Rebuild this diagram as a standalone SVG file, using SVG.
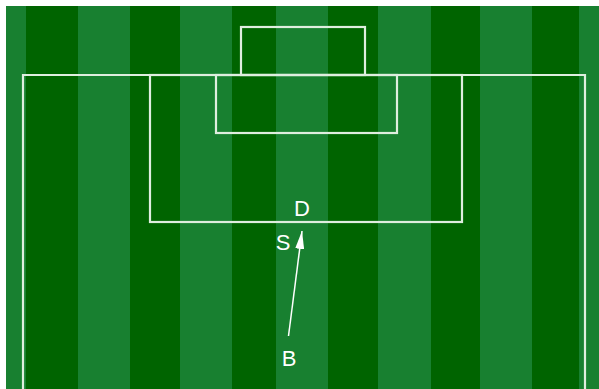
<svg xmlns="http://www.w3.org/2000/svg" width="599" height="389" viewBox="0 0 599 389">
<style>
.dk{fill:#006400}
.lt{fill:#188030}
.ln{fill:none;stroke:#dfeedf;stroke-width:2.2}
.lbl{font-family:"Liberation Sans",Arial,sans-serif;font-size:22px;fill:#ffffff}
</style>
<defs>
<marker id="ah" markerWidth="18" markerHeight="9" refX="18" refY="4.5" orient="auto" markerUnits="userSpaceOnUse">
<path d="M0,0 L18,4.5 L0,9 Z" fill="#ffffff"/>
</marker>
</defs>
<rect x="0" y="0" width="599" height="389" fill="#ffffff"/>
<g id="pitch">
<rect class="lt" x="6" y="6" width="593" height="383"/>
<rect class="dk" x="26" y="6" width="52" height="383"/>
<rect class="dk" x="130" y="6" width="50" height="383"/>
<rect class="dk" x="232" y="6" width="44" height="383"/>
<rect class="dk" x="328" y="6" width="50" height="383"/>
<rect class="dk" x="431" y="6" width="49" height="383"/>
<rect class="dk" x="532" y="6" width="47" height="383"/>
</g>
<g id="lines">
<polyline class="ln" points="23,389 23,75 585,75 585,389"/>
<rect id="goal" class="ln" x="241" y="27" width="124" height="48"/>
<rect id="penalty-area" class="ln" x="150" y="75" width="312" height="147"/>
<rect id="six-yard-box" class="ln" x="216" y="75" width="181" height="58"/>
</g>
<g id="node-D"><text class="lbl" x="302" y="216" text-anchor="middle">D</text></g>
<g id="node-S"><text class="lbl" x="283" y="250" text-anchor="middle">S</text></g>
<g id="node-B"><text class="lbl" x="289" y="366" text-anchor="middle">B</text></g>
<g id="connectors">
<line x1="288.5" y1="336" x2="302" y2="231" stroke="#ffffff" stroke-width="1.5" marker-end="url(#ah)"/>
</g>
</svg>
